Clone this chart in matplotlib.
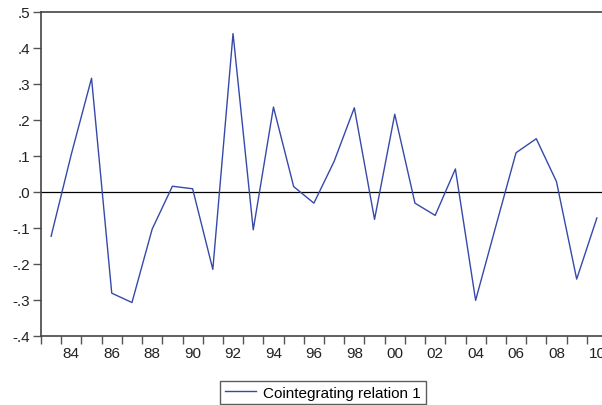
import matplotlib

matplotlib.use("Agg")
import matplotlib.pyplot as plt
import numpy as np

plt.rcParams["font.family"] = ["Liberation Sans", "DejaVu Sans"]

years = np.arange(1983, 2011)
relation = [
    -0.123, 0.105, 0.316, -0.281, -0.307, -0.103, 0.016, 0.009, -0.215, 0.440,
    -0.105, 0.236, 0.015, -0.031, 0.085, 0.234, -0.076, 0.216, -0.031, -0.065,
    0.064, -0.301, -0.095, 0.109, 0.148, 0.029, -0.242, -0.072,
]
y_ticks = [-0.4, -0.3, -0.2, -0.1, 0.0, 0.1, 0.2, 0.3, 0.4, 0.5]
label_years = years[1::2]


def short_fmt(v):
    s = f"{v:.1f}"
    return s.replace("0.", ".")


fig = plt.figure(figsize=(6.02, 4.06), dpi=100)
ax = fig.add_axes([41 / 602, 1 - 337 / 406, 566 / 602, 324 / 406])

ax.plot(years + 0.5, relation, color="#3649aa", lw=1.0, label="Cointegrating relation 1")
ax.axhline(0, color="black", lw=0.9, zorder=1)

ax.set_xlim(years[0], years[-1] + 1)
ax.set_ylim(-0.4, 0.5)

ax.set_yticks(y_ticks)
ax.set_yticklabels([short_fmt(v) for v in y_ticks])
ax.set_xticks(years)
ax.set_xticklabels([])
ax.set_xticks(label_years + 0.5, minor=True)
ax.set_xticklabels([f"{y % 100:02d}" for y in label_years], minor=True)

ax.tick_params(axis="both", which="major", direction="out", length=6, width=1,
               color="#555555", labelsize=11, labelcolor="#222222")
ax.tick_params(axis="x", which="minor", length=0, pad=7, labelsize=11, labelcolor="#222222")
ax.tick_params(axis="y", pad=2)

for side in ["left", "top", "bottom", "right"]:
    ax.spines[side].set_color("#444444")
    ax.spines[side].set_linewidth(1.2)

fig.legend(loc="upper center", bbox_to_anchor=(323 / 602, 1 - 382 / 406),
           frameon=True, fancybox=False, edgecolor="#333333", fontsize=11,
           handlelength=2.0, handletextpad=0.5, borderpad=0.3, borderaxespad=0)

fig.savefig("out.png", dpi=100)
